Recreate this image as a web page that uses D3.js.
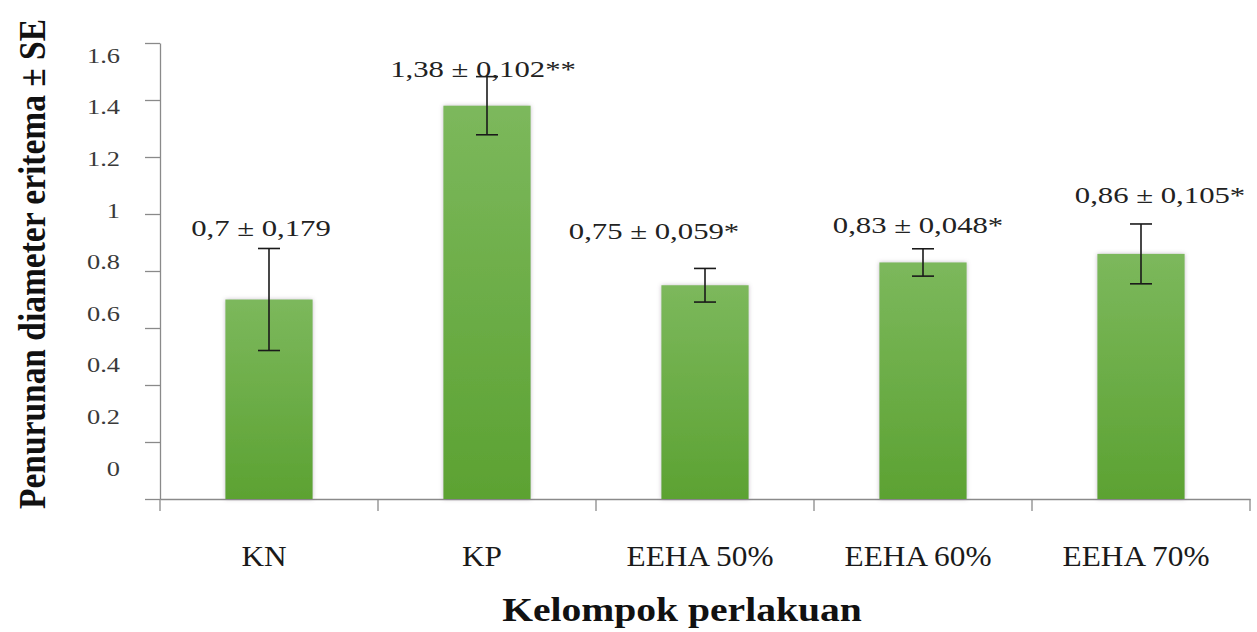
<!DOCTYPE html>
<html>
<head>
<meta charset="utf-8">
<script src="https://cdn.jsdelivr.net/npm/d3@7"></script>
<style>
  html, body { margin: 0; padding: 0; background: #fff; }
  svg { display: block; }
  text { font-family: "Liberation Serif", "Times New Roman", serif; }
</style>
</head>
<body>
<svg id="chart" width="1257" height="632"></svg>
<script>
// ---- data ----
const categories = ["KN", "KP", "EEHA 50%", "EEHA 60%", "EEHA 70%"];
const means = [0.70, 1.38, 0.75, 0.83, 0.86];
const se = [0.179, 0.102, 0.059, 0.048, 0.105];
const valueLabels = ["0,7 \u00b1 0,179", "1,38 \u00b1 0,102**", "0,75 \u00b1 0,059*", "0,83 \u00b1 0,048*", "0,86 \u00b1 0,105*"];
const yTicks = [0, 0.2, 0.4, 0.6, 0.8, 1, 1.2, 1.4, 1.6];
const yTickLabels = ["0", "0.2", "0.4", "0.6", "0.8", "1", "1.2", "1.4", "1.6"];
const yTitle = "Penurunan diameter eritema \u00b1 SE";
const xTitle = "Kelompok perlakuan";

// ---- layout (not data) ----
const labelDx = [-8, -4, -51, -5, 19];
const labelDy = [-12, 0, -29, -16, -21];

const svg = d3.select("#chart");
const x = d3.scaleBand().domain(categories).range([160, 1250]).paddingInner(0.6).paddingOuter(0.3);
const y = d3.scaleLinear().domain([0, 1.6]).range([499, 43]);
// tick labels in the reference sit on a compressed scale
const yLab = d3.scaleLinear().domain([0, 1.6]).range([468, 55]);

const defs = svg.append("defs");
const grad = defs.append("linearGradient").attr("id", "barGrad").attr("x1", 0).attr("y1", 0).attr("x2", 0).attr("y2", 1);
grad.append("stop").attr("offset", "0%").attr("stop-color", "#7cb85c");
grad.append("stop").attr("offset", "100%").attr("stop-color", "#5ca232");
const f = defs.append("filter").attr("id", "shadow").attr("x", "-20%").attr("y", "-20%").attr("width", "140%").attr("height", "140%");
f.append("feDropShadow").attr("dx", 0).attr("dy", 0).attr("stdDeviation", 2.2).attr("flood-color", "#7a6a80").attr("flood-opacity", 0.45);

// y axis
const yAxis = d3.axisLeft(y).tickValues(yTicks).tickSize(15).tickSizeOuter(0).tickFormat("");
const gy = svg.append("g").attr("transform", "translate(160,0)").call(yAxis);
gy.selectAll("path, line").attr("stroke", "#8a8a8a").attr("stroke-width", 1.3);

// x axis line + boundary ticks
const xAxis = d3.axisBottom(x).tickSize(0).tickSizeOuter(0).tickFormat("");
const gx = svg.append("g").attr("transform", `translate(0,${y(0)})`).call(xAxis);
gx.selectAll("path").attr("stroke", "#8a8a8a").attr("stroke-width", 1.3);
const bounds = d3.range(categories.length + 1).map(i => x.range()[0] + i * x.step());
svg.append("g").selectAll("line").data(bounds).join("line")
  .attr("x1", d => d).attr("x2", d => d)
  .attr("y1", y(0)).attr("y2", y(0) + 12)
  .attr("stroke", "#8a8a8a").attr("stroke-width", 1.3);

// y tick labels
svg.append("g").selectAll("text").data(yTicks).join("text")
  .attr("transform", d => `translate(120,${yLab(d)}) scale(1.2,1)`)
  .attr("text-anchor", "end")
  .attr("dominant-baseline", "central")
  .attr("font-size", 22)
  .attr("fill", "#3a3a3a")
  .text((d, i) => yTickLabels[i]);

// bars
svg.append("g").selectAll("rect").data(categories).join("rect")
  .attr("x", d => x(d))
  .attr("y", (d, i) => y(means[i]))
  .attr("width", x.bandwidth())
  .attr("height", (d, i) => y(0) - y(means[i]))
  .attr("fill", "url(#barGrad)")
  .attr("filter", "url(#shadow)");

// error bars
const eb = svg.append("g").attr("stroke", "#1a1a1a").attr("stroke-width", 1.6);
categories.forEach((c, i) => {
  const cx = x(c) + x.bandwidth() / 2;
  const yt = y(means[i] + se[i]), yb = y(means[i] - se[i]);
  eb.append("line").attr("x1", cx).attr("x2", cx).attr("y1", yt).attr("y2", yb);
  eb.append("line").attr("x1", cx - 11).attr("x2", cx + 11).attr("y1", yt).attr("y2", yt);
  eb.append("line").attr("x1", cx - 11).attr("x2", cx + 11).attr("y1", yb).attr("y2", yb);
});

// value labels
svg.append("g").selectAll("text").data(categories).join("text")
  .attr("transform", (d, i) => `translate(${x(d) + x.bandwidth() / 2 + labelDx[i]},${y(means[i] + se[i]) + labelDy[i]}) scale(1.28,1)`)
  .attr("text-anchor", "middle")
  .attr("font-size", 24)
  .attr("fill", "#222")
  .text((d, i) => valueLabels[i]);

// x category labels
svg.append("g").selectAll("text").data(categories).join("text")
  .attr("transform", d => `translate(${x(d) + x.bandwidth() / 2 - 5},566) scale(1.08,1)`)
  .attr("text-anchor", "middle")
  .attr("font-size", 29)
  .attr("fill", "#1a1a1a")
  .text(d => d);

// axis titles
svg.append("text")
  .attr("transform", "translate(682,621) scale(1.2,1)")
  .attr("text-anchor", "middle")
  .attr("font-size", 33).attr("font-weight", "bold")
  .attr("fill", "#111")
  .text(xTitle);

svg.append("text")
  .attr("transform", "translate(45,264) rotate(-90) scale(0.905,1)")
  .attr("text-anchor", "middle")
  .attr("font-size", 37).attr("font-weight", "bold")
  .attr("fill", "#111")
  .text(yTitle);
</script>
</body>
</html>
